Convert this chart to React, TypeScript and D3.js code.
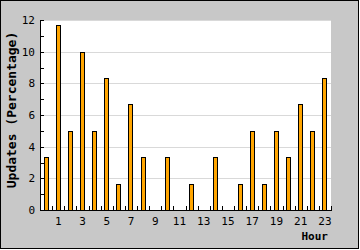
import React from "react";
import * as d3 from "d3";

const hours: number[] = d3.range(0, 24);
const updates: number[] = [
  3.33, 11.67, 5, 10, 5, 8.33, 1.67, 6.67, 3.33, 0, 3.33, 0,
  1.67, 0, 3.33, 0, 1.67, 5, 1.67, 5, 3.33, 6.67, 5, 8.33,
];
const yTicks: number[] = [0, 2, 4, 6, 8, 10, 12];
const yMinorTicks: number[] = d3.range(0, 13);
const xLabelHours: number[] = [1, 3, 5, 7, 9, 11, 13, 15, 17, 19, 21, 23];
const xTitle = "Hour";
const yTitle = "Updates (Percentage)";

const W = 360;
const H = 250;
const L = 40;
const R = 331;
const T = 20;
const B = 210;
const FONT = "'DejaVu Sans Mono', monospace";

export default function App() {
  const x = d3.scaleBand<number>().domain(hours).range([L, R]).padding(0);
  const y = d3.scaleLinear().domain([0, 12]).range([B, T]);
  const bw = x.bandwidth();
  const barW = 5;

  return (
    <svg
      width={W}
      height={H}
      style={{ position: "absolute", left: 0, top: 0 }}
      shapeRendering="crispEdges"
    >
      <rect x={0} y={0} width={W} height={H} fill="#ffffff" />
      <rect x={0.5} y={0.5} width={358} height={248} fill="#c8c8c8" stroke="#000" strokeWidth={1} />
      <rect x={L} y={T} width={R - L} height={B - T} fill="#ffffff" />
      {yTicks.map((t) => (
        <line key={"g" + t} x1={L} x2={R} y1={Math.round(y(t)) + 0.5} y2={Math.round(y(t)) + 0.5} stroke="#d9d9d9" />
      ))}
      {hours.map((h, i) => {
        const cx = (x(h) as number) + bw / 2;
        const x0 = Math.round(cx - barW / 2) + 0.5;
        const yt = Math.round(y(updates[i])) + 0.5;
        if (updates[i] <= 0) return null;
        return (
          <rect key={"b" + h} x={x0} y={yt} width={barW - 1} height={B - yt} fill="#ffa500" stroke="#000" strokeWidth={1} />
        );
      })}
      {yMinorTicks.map((t) => (
        <line key={"yt" + t} x1={L} x2={L + 4} y1={Math.round(y(t)) + 0.5} y2={Math.round(y(t)) + 0.5} stroke="#000" />
      ))}
      {d3.range(0, 25).map((i) => {
        const xx = Math.round(L + i * bw) + 0.5;
        return <line key={"xt" + i} x1={xx} x2={xx} y1={B} y2={B - 4} stroke="#000" />;
      })}
      <line x1={L + 0.5} x2={L + 0.5} y1={T} y2={B + 1} stroke="#000" />
      <line x1={L} x2={R + 1} y1={B + 0.5} y2={B + 0.5} stroke="#000" />
      {yTicks.map((t) => (
        <text key={"yl" + t} x={35} y={y(t) + 4} textAnchor="end" fontFamily={FONT} fontSize={11} fill="#000">
          {t}
        </text>
      ))}
      {xLabelHours.map((h) => (
        <text key={"xl" + h} x={(x(h) as number) + bw / 2} y={225} textAnchor="middle" fontFamily={FONT} fontSize={11} fill="#000">
          {h}
        </text>
      ))}
      <text x={328} y={240} textAnchor="end" fontFamily={FONT} fontSize={11} fontWeight="bold" fill="#000">
        {xTitle}
      </text>
      <text
        transform={`translate(16,110) rotate(-90)`}
        textAnchor="middle"
        fontFamily={FONT}
        fontSize={13}
        fontWeight="bold"
        fill="#000"
      >
        {yTitle}
      </text>
    </svg>
  );
}
